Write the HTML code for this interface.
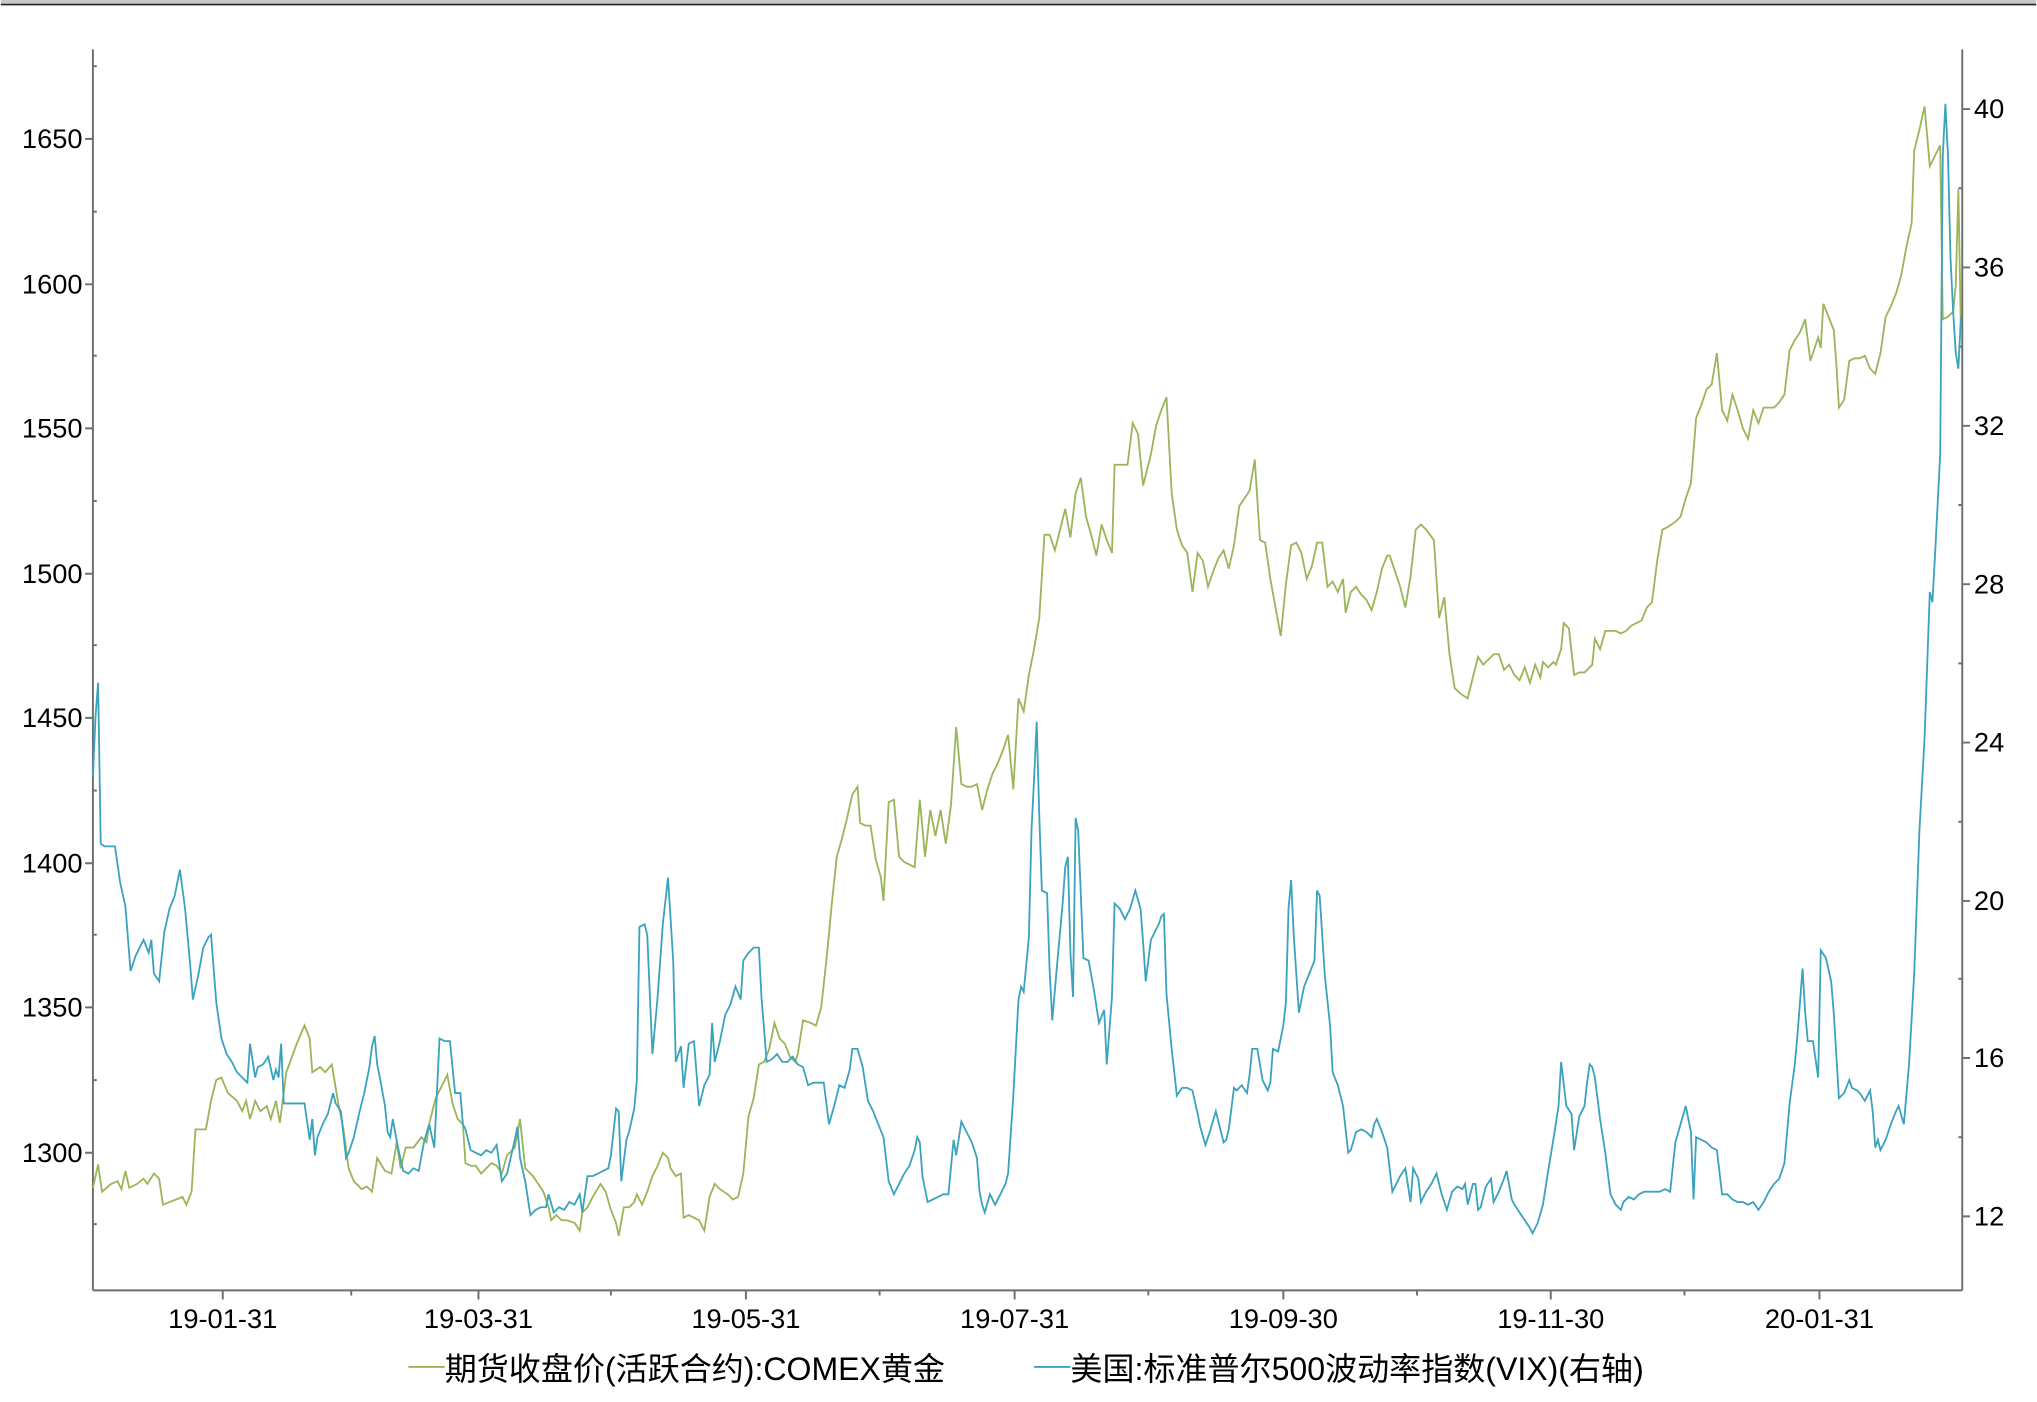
<!DOCTYPE html>
<html><head><meta charset="utf-8"><style>
html,body{margin:0;padding:0;background:#fff;}
svg{display:block;}
text{font-family:"Liberation Sans","Noto Sans CJK SC",sans-serif;fill:#000;}
</style></head><body>
<svg width="2037" height="1402" viewBox="0 0 1568 1080" xmlns="http://www.w3.org/2000/svg">
<rect x="0" y="0" width="1568" height="3" fill="#c8c8c8"/>
<line x1="0" y1="3.5" x2="1568" y2="3.5" stroke="#222" stroke-width="1.2"/>
<g stroke="#6e6e6e" stroke-width="1.5" fill="none">
<line x1="71" y1="38" x2="71" y2="994"/>
<line x1="71" y1="994" x2="1511" y2="994"/>
<line x1="1511" y1="38" x2="1511" y2="994"/>
<path d="M65 107H71M65 219H71M65 330H71M65 442H71M65 553H71M65 665H71M65 776H71M65 888H71"/>
<path d="M71 51H74M71 163H74M71 274H74M71 386H74M71 497H74M71 609H74M71 720H74M71 832H74M71 943H74"/>
<path d="M1511 84H1517M1511 206H1517M1511 328H1517M1511 450H1517M1511 572H1517M1511 694H1517M1511 815H1517M1511 937H1517"/>
<path d="M1508 145H1511M1508 267H1511M1508 389H1511M1508 511H1511M1508 633H1511M1508 754H1511M1508 876H1511"/>
<path d="M171 994V1001M368 994V1001M574 994V1001M781 994V1001M988 994V1001M1194 994V1001M1401 994V1001"/>
<path d="M270 994V998M470 994V998M677 994V998M884 994V998M1091 994V998M1297 994V998"/>
</g>
<g font-size="21" text-anchor="end">
<text x="63" y="114">1650</text><text x="63" y="226">1600</text><text x="63" y="337">1550</text><text x="63" y="449">1500</text><text x="63" y="560">1450</text><text x="63" y="672">1400</text><text x="63" y="783">1350</text><text x="63" y="895">1300</text>
</g>
<g font-size="21">
<text x="1520" y="91">40</text><text x="1520" y="213">36</text><text x="1520" y="335">32</text><text x="1520" y="457">28</text><text x="1520" y="579">24</text><text x="1520" y="701">20</text><text x="1520" y="822">16</text><text x="1520" y="944">12</text>
</g>
<g font-size="21" text-anchor="middle">
<text x="171" y="1023">19-01-31</text><text x="368" y="1023">19-03-31</text><text x="574" y="1023">19-05-31</text><text x="781" y="1023">19-07-31</text><text x="988" y="1023">19-09-30</text><text x="1194" y="1023">19-11-30</text><text x="1401" y="1023">20-01-31</text>
</g>
<polyline fill="none" stroke="#9bb55a" stroke-width="1.4" points="71,915 75,897 78,918 85,912 90,910 93,916 96,902 99,915 105,912 110,908 113,912 118,904 122,908 125,928 130,926 135,924 140,922 143,928 147,918 150,870 158,870 162,848 166,832 170,830 175,842 182,848 186,856 189,848 192,862 196,848 200,856 205,852 208,862 212,848 215,865 220,826 228,804 234,790 238,800 240,826 246,822 250,826 255,820 260,850 264,870 268,900 272,910 278,916 282,914 286,918 290,892 296,902 301,904 305,880 308,900 312,884 318,884 324,876 328,880 330,866 335,846 340,836 344,828 348,850 352,862 356,866 358,896 362,898 366,898 370,904 374,900 378,896 382,898 386,904 390,890 396,884 400,862 404,900 410,906 414,912 418,918 422,930 424,940 428,936 432,940 436,940 442,942 446,948 448,934 452,930 456,922 462,912 466,918 470,932 474,942 476,952 480,930 484,930 488,926 490,920 494,928 498,918 502,906 506,898 510,888 514,892 516,900 520,906 524,904 526,938 530,936 534,938 538,940 542,948 546,922 550,912 554,916 560,920 564,924 568,922 572,904 576,860 580,846 584,820 588,818 592,808 596,788 600,800 604,804 608,814 612,818 614,812 618,786 624,788 628,790 632,776 636,740 640,698 644,660 648,646 652,630 656,612 660,606 662,634 666,636 670,636 674,662 678,676 680,694 684,618 688,616 692,660 696,664 700,666 704,668 708,616 712,660 716,624 720,644 724,624 728,650 732,620 736,560 740,604 744,606 748,606 752,604 756,624 760,608 764,596 768,588 772,578 776,566 780,608 784,538 788,548 792,520 796,500 800,476 804,412 808,412 812,424 816,408 820,392 824,414 828,380 832,368 836,398 840,412 844,428 848,404 852,416 856,426 858,358 862,358 866,358 868,358 872,326 876,334 880,374 886,350 890,328 894,316 898,306 902,380 906,408 910,420 914,426 918,456 922,426 926,432 930,452 934,440 938,430 942,424 946,438 950,420 954,390 958,384 962,378 966,354 970,416 974,418 978,446 982,468 986,490 990,450 994,420 998,418 1002,426 1006,446 1010,436 1014,418 1018,418 1022,452 1026,448 1030,456 1034,446 1036,472 1040,456 1044,452 1048,458 1052,462 1056,470 1060,456 1064,438 1068,428 1070,428 1074,440 1078,452 1082,468 1086,444 1090,408 1094,404 1098,408 1104,416 1108,476 1112,460 1116,504 1120,530 1124,534 1130,538 1134,522 1138,506 1142,512 1146,508 1150,504 1154,504 1158,516 1162,512 1166,520 1170,524 1174,514 1178,526 1182,512 1186,522 1188,510 1192,514 1196,510 1198,512 1202,500 1204,480 1208,484 1212,520 1216,518 1220,518 1226,512 1228,492 1232,500 1236,486 1240,486 1244,486 1248,488 1252,486 1256,482 1260,480 1264,478 1268,468 1272,464 1276,432 1280,408 1284,406 1290,402 1294,398 1298,384 1302,372 1306,322 1310,312 1314,300 1318,296 1322,272 1326,316 1330,324 1334,304 1338,316 1342,330 1346,338 1350,316 1354,326 1358,314 1362,314 1366,314 1370,310 1374,304 1378,270 1382,262 1386,256 1390,246 1394,278 1398,266 1400,260 1402,268 1404,234 1408,244 1412,254 1414,280 1416,314 1420,308 1424,278 1428,276 1432,276 1436,274 1440,284 1444,288 1448,272 1452,244 1456,236 1460,226 1464,212 1468,190 1472,172 1474,116 1478,100 1482,82 1486,128 1490,120 1494,112 1496,246 1500,244 1504,240 1506,220 1508,146 1510,258"/>
<polyline fill="none" stroke="#3ba3bd" stroke-width="1.4" points="71,598 73,552 75,526 77,650 80,652 84,652 88,652 92,680 96,698 100,748 104,736 110,724 114,734 116,724 118,750 122,756 126,718 130,700 134,690 138,670 142,700 146,744 148,770 152,752 156,730 160,722 162,720 166,772 170,800 174,812 178,818 182,826 186,830 190,834 192,804 196,830 198,822 202,820 206,814 210,832 212,824 214,830 216,804 218,850 222,850 226,850 230,850 234,850 236,864 238,878 240,862 242,890 244,876 248,866 252,858 256,842 258,850 262,856 266,892 268,888 272,876 276,858 280,842 284,822 286,806 288,798 290,820 292,830 296,852 298,872 300,876 302,862 306,884 310,902 314,904 318,900 322,902 326,880 330,866 334,884 338,800 342,802 346,802 350,842 354,842 356,866 358,870 362,886 366,888 370,890 374,886 378,888 382,882 386,910 390,904 396,878 398,868 400,892 404,910 408,936 412,932 416,930 420,930 422,920 426,934 430,930 434,932 438,926 442,928 446,920 448,934 452,906 456,906 460,904 464,902 468,900 470,890 474,854 476,856 478,910 482,878 484,872 488,854 490,832 492,714 496,712 498,720 502,812 506,768 510,712 514,676 518,740 520,818 524,806 526,838 530,804 534,802 538,852 542,836 546,828 548,788 550,818 554,802 558,782 562,774 566,760 570,770 572,740 576,734 580,730 584,730 586,768 590,818 594,816 598,812 602,818 606,818 610,814 614,820 618,822 622,836 626,834 630,834 634,834 638,866 642,852 646,836 650,838 654,824 656,808 660,808 664,822 668,848 672,856 676,866 680,876 684,910 688,920 692,912 696,904 700,898 704,886 706,876 708,880 710,906 714,926 718,924 722,922 726,920 730,920 734,878 736,890 740,864 744,872 748,880 752,892 754,918 756,928 758,934 762,920 766,928 770,920 774,912 776,904 780,844 784,770 786,760 788,764 792,722 794,640 796,600 798,556 800,628 802,686 806,688 808,748 810,786 814,740 818,696 820,668 822,660 824,734 826,768 828,630 830,640 834,738 838,740 842,762 846,788 850,778 852,820 856,768 858,696 862,700 866,708 870,700 874,686 878,700 880,726 882,756 886,724 890,716 892,712 894,706 896,704 898,766 902,808 906,844 910,838 914,838 918,840 922,858 924,868 928,882 932,870 936,856 938,864 942,880 944,878 946,870 950,838 952,840 956,836 960,842 962,828 964,808 968,808 972,832 976,840 978,834 980,808 984,810 988,790 990,772 992,700 994,678 996,720 1000,780 1004,760 1008,750 1012,740 1014,686 1016,690 1020,752 1024,790 1026,826 1030,836 1034,852 1038,888 1040,886 1044,872 1048,870 1052,872 1056,876 1058,866 1060,862 1064,872 1068,884 1072,918 1076,910 1078,906 1082,900 1086,926 1088,900 1092,908 1094,926 1098,918 1102,912 1106,904 1110,920 1114,932 1118,918 1122,914 1126,916 1128,912 1130,928 1134,912 1136,912 1138,932 1140,930 1144,914 1148,908 1150,926 1154,918 1158,908 1160,902 1164,924 1166,928 1170,934 1174,940 1178,946 1180,950 1184,942 1188,928 1192,902 1196,878 1200,852 1202,818 1206,852 1210,858 1212,886 1216,860 1220,852 1222,834 1224,820 1226,822 1228,830 1232,862 1236,888 1240,920 1244,928 1248,932 1250,926 1254,922 1258,924 1262,920 1266,918 1270,918 1274,918 1278,918 1282,916 1286,918 1290,880 1294,866 1298,852 1302,872 1304,924 1306,876 1310,878 1314,880 1318,884 1322,886 1326,920 1330,920 1334,924 1338,926 1342,926 1346,928 1350,926 1354,932 1358,926 1362,918 1366,912 1370,908 1374,896 1378,850 1382,820 1384,798 1388,746 1390,780 1392,802 1396,802 1400,830 1402,732 1406,738 1410,756 1412,780 1416,846 1420,842 1424,832 1426,838 1430,840 1432,842 1436,848 1440,840 1442,856 1444,884 1446,878 1448,886 1452,878 1456,866 1460,856 1462,852 1466,866 1470,820 1474,750 1478,640 1482,568 1486,456 1488,464 1490,428 1494,350 1496,120 1498,80 1500,120 1502,200 1504,240 1506,272 1508,284 1510,244"/>
<line x1="314" y1="1053" x2="342" y2="1053" stroke="#9bb55a" stroke-width="1.4"/>
<text x="342" y="1063" font-size="24.7">期货收盘价(活跃合约):COMEX黄金</text>
<line x1="796" y1="1053" x2="824" y2="1053" stroke="#3ba3bd" stroke-width="1.4"/>
<text x="824" y="1063" font-size="24.7">美国:标准普尔500波动率指数(VIX)(右轴)</text>
</svg>
</body></html>
